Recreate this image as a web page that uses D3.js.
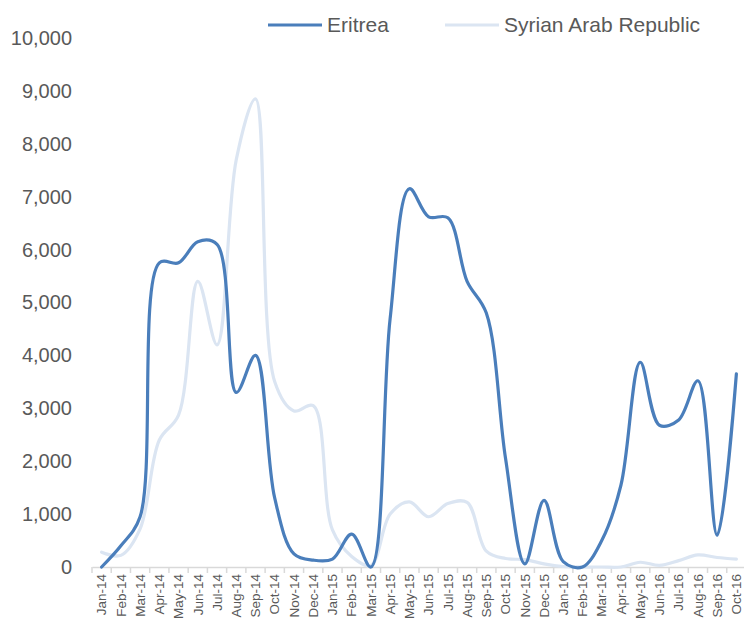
<!DOCTYPE html>
<html>
<head>
<meta charset="utf-8">
<script src="https://cdn.jsdelivr.net/npm/d3@7"></script>
<style>
  html, body { margin: 0; padding: 0; background: #fff; }
  svg { display: block; font-family: "Liberation Sans", Arial, sans-serif; }
</style>
</head>
<body>
<svg id="chart" width="744" height="619"></svg>
<script>
// Monthly arrivals, Jan 2014 – Oct 2016
const months = [
  "Jan-14","Feb-14","Mar-14","Apr-14","May-14","Jun-14","Jul-14","Aug-14","Sep-14","Oct-14","Nov-14","Dec-14",
  "Jan-15","Feb-15","Mar-15","Apr-15","May-15","Jun-15","Jul-15","Aug-15","Sep-15","Oct-15","Nov-15","Dec-15",
  "Jan-16","Feb-16","Mar-16","Apr-16","May-16","Jun-16","Jul-16","Aug-16","Sep-16","Oct-16"
];
const eritrea = [
  0, 400, 950, 5750, 5750, 6150, 6100, 3300, 4000, 1300, 250, 130,
  150, 620, 0, 4700, 7150, 6620, 6600, 5400, 4800, 2050, 60, 1260,
  100, 0, 500, 1550, 3870, 2680, 2780, 3520, 600, 3650
];
const syria = [
  280, 220, 720, 2400, 2870, 5400, 4200, 7700, 8850, 3500, 2950, 3050,
  700, 200, 30, 1000, 1230, 950, 1200, 1220, 300, 160, 140, 60,
  10, 0, 0, 0, 90, 30, 120, 230, 180, 150
];
const yTicks = [0, 1000, 2000, 3000, 4000, 5000, 6000, 7000, 8000, 9000, 10000];

(function () {
  const seriesList = [
    { name: "Syrian Arab Republic", values: syria, color: "#dbe5f2" },
    { name: "Eritrea", values: eritrea, color: "#4a7ebb" }
  ];

  const svg = d3.select("#chart");
  const plotLeft = 92, plotRight = 746, plotTop = 38, plotBottom = 567;

  const x = d3.scaleBand().domain(months).range([plotLeft, plotRight]);
  const y = d3.scaleLinear().domain([0, 10000]).range([plotBottom, plotTop]);

  // Value axis labels (no axis line)
  const yAxis = svg.append("g")
    .attr("transform", `translate(${plotLeft},0)`)
    .call(d3.axisLeft(y).tickValues(yTicks).tickSize(0).tickPadding(20)
      .tickFormat(d3.format(",")));
  yAxis.select(".domain").remove();
  yAxis.selectAll("text")
    .attr("fill", "#595959")
    .style("font-size", "20px");

  // Category axis
  const xAxis = svg.append("g")
    .attr("transform", `translate(0,${plotBottom})`)
    .call(d3.axisBottom(x).tickSize(0));
  xAxis.select(".domain").attr("stroke", "#d9d9d9").attr("stroke-width", 1.5);
  xAxis.selectAll(".tick text")
    .attr("fill", "#595959")
    .style("font-size", "13.5px")
    .attr("text-anchor", "end")
    .attr("transform", "rotate(-90)")
    .attr("x", -7)
    .attr("y", 0)
    .attr("dy", "0.35em");
  // tick marks at category boundaries
  xAxis.selectAll(".bound")
    .data(d3.range(months.length + 1))
    .join("line")
    .attr("class", "bound")
    .attr("x1", i => plotLeft + i * x.step())
    .attr("x2", i => plotLeft + i * x.step())
    .attr("y1", 0).attr("y2", 6)
    .attr("stroke", "#d9d9d9").attr("stroke-width", 1.5);

  // Smoothed lines
  const line = d3.line()
    .x((d, i) => x(months[i]) + x.bandwidth() / 2)
    .y(d => y(d))
    .curve(d3.curveCatmullRom.alpha(0.5));

  svg.append("g").selectAll("path")
    .data(seriesList)
    .join("path")
    .attr("d", s => line(s.values))
    .attr("fill", "none")
    .attr("stroke", s => s.color)
    .attr("stroke-width", 3.2)
    .attr("stroke-linejoin", "round")
    .attr("stroke-linecap", "round");

  // Legend
  const legendItems = [
    { name: "Eritrea", color: "#4a7ebb", x: 268 },
    { name: "Syrian Arab Republic", color: "#dbe5f2", x: 445 }
  ];
  const lg = svg.append("g").selectAll("g")
    .data(legendItems)
    .join("g")
    .attr("transform", d => `translate(${d.x},25)`);
  lg.append("line")
    .attr("x1", 0).attr("x2", 54).attr("y1", 0).attr("y2", 0)
    .attr("stroke", d => d.color).attr("stroke-width", 3.2);
  lg.append("text")
    .attr("x", 59).attr("y", 0).attr("dy", "0.35em")
    .attr("fill", "#595959")
    .style("font-size", "21px")
    .text(d => d.name);
})();
</script>
</body>
</html>
